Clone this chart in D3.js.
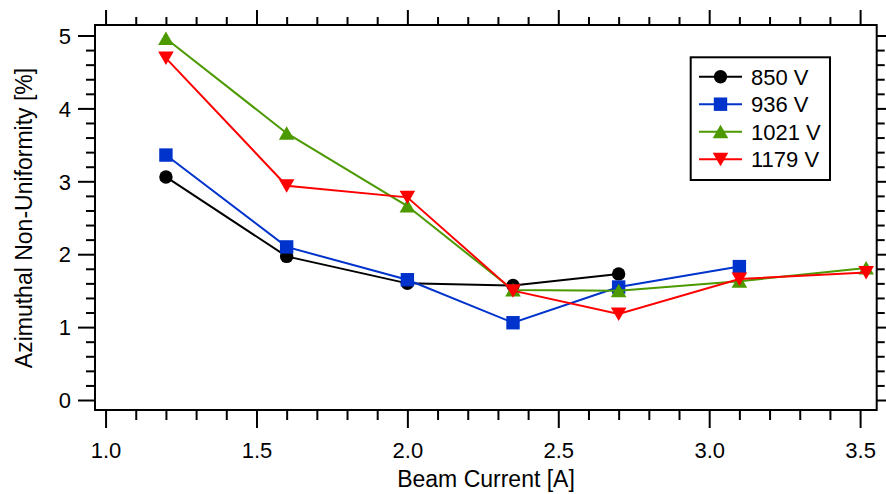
<!DOCTYPE html>
<html>
<head>
<meta charset="utf-8">
<script src="https://cdn.jsdelivr.net/npm/d3@7"></script>
<style>
  html, body { margin: 0; padding: 0; background: #fff; }
  svg { display: block; font-family: "Liberation Sans", Arial, Helvetica, sans-serif; }
</style>
</head>
<body>
<svg id="chart" width="886" height="494"></svg>
<script>
// ---- data ----
const seriesNames = ["850 V", "936 V", "1021 V", "1179 V"];
const currents850  = [1.2, 1.6, 2.0, 2.35, 2.7];
const values850    = [3.06, 1.97, 1.60, 1.57, 1.73];
const currents936  = [1.2, 1.6, 2.0, 2.35, 2.7, 3.1];
const values936    = [3.36, 2.10, 1.65, 1.06, 1.55, 1.83];
const currents1021 = [1.2, 1.6, 2.0, 2.35, 2.7, 3.1, 3.52];
const values1021   = [4.96, 3.66, 2.66, 1.51, 1.50, 1.63, 1.81];
const currents1179 = [1.2, 1.6, 2.0, 2.35, 2.7, 3.1, 3.52];
const values1179   = [4.69, 2.94, 2.78, 1.50, 1.18, 1.66, 1.75];
const xMajorTicks = [1.0, 1.5, 2.0, 2.5, 3.0, 3.5];
const yMajorTicks = [0, 1, 2, 3, 4, 5];
const xTitle = "Beam Current [A]";
const yTitle = "Azimuthal Non-Uniformity [%]";

const colors = ["#000000", "#0033cc", "#4c9900", "#ff0000"];
const shapes = ["circle", "square", "triUp", "triDown"];

const series = [
  {name: seriesNames[0], xs: currents850,  ys: values850},
  {name: seriesNames[1], xs: currents936,  ys: values936},
  {name: seriesNames[2], xs: currents1021, ys: values1021},
  {name: seriesNames[3], xs: currents1179, ys: values1179}
].map((s, i) => ({...s, color: colors[i], shape: shapes[i],
  pts: s.xs.map((x, j) => ({x, y: s.ys[j]}))}));

// ---- layout ----
const L = 95, R = 876.7, T = 25, B = 410;
const x = d3.scaleLinear().domain([0.965, 3.555]).range([L, R]);
const y = d3.scaleLinear().domain([-0.137, 5.144]).range([B, T]);

const svg = d3.select("#chart");
const FS = 22;
const TFS = 23;

const xMinor = d3.range(1.0, 3.55, 0.1).map(v => +v.toFixed(2)).filter(v => !xMajorTicks.some(t => Math.abs(t - v) < 1e-6));
const yMinor = d3.range(0, 5.15, 0.2).map(v => +v.toFixed(2)).filter(v => !yMajorTicks.some(t => Math.abs(t - v) < 1e-6));

function styleAxis(g) {
  g.select(".domain").remove();
  g.selectAll("line").attr("stroke", "#000").attr("stroke-width", 2);
  g.selectAll("text").attr("fill", "#000").attr("font-size", FS).attr("font-family", "Liberation Sans, Arial, sans-serif");
}

// bottom
svg.append("g").attr("transform", `translate(0,${B})`)
  .call(d3.axisBottom(x).tickValues(xMajorTicks).tickSize(18).tickFormat(d3.format(".1f")))
  .call(styleAxis)
  .call(g => g.selectAll("text").attr("y", 48).attr("dy", 0));
svg.append("g").attr("transform", `translate(0,${B})`)
  .call(d3.axisBottom(x).tickValues(xMinor).tickSize(10).tickFormat(""))
  .call(styleAxis);
// top
svg.append("g").attr("transform", `translate(0,${T})`)
  .call(d3.axisTop(x).tickValues(xMajorTicks).tickSize(15).tickFormat(""))
  .call(styleAxis);
svg.append("g").attr("transform", `translate(0,${T})`)
  .call(d3.axisTop(x).tickValues(xMinor).tickSize(8).tickFormat(""))
  .call(styleAxis);
// left
svg.append("g").attr("transform", `translate(${L},0)`)
  .call(d3.axisLeft(y).tickValues(yMajorTicks).tickSize(17).tickFormat(d3.format("d")))
  .call(styleAxis)
  .call(g => g.selectAll("text").attr("x", -24).attr("dy", "0.35em"));
svg.append("g").attr("transform", `translate(${L},0)`)
  .call(d3.axisLeft(y).tickValues(yMinor).tickSize(9).tickFormat(""))
  .call(styleAxis);
// right
svg.append("g").attr("transform", `translate(${R},0)`)
  .call(d3.axisRight(y).tickValues(yMajorTicks).tickSize(15).tickFormat(""))
  .call(styleAxis);
svg.append("g").attr("transform", `translate(${R},0)`)
  .call(d3.axisRight(y).tickValues(yMinor).tickSize(8).tickFormat(""))
  .call(styleAxis);

// frame
svg.append("rect").attr("x", L).attr("y", T).attr("width", R - L).attr("height", B - T)
  .attr("fill", "none").attr("stroke", "#000").attr("stroke-width", 2);

// titles
svg.append("text").attr("x", 486).attr("y", 487).attr("text-anchor", "middle")
  .attr("font-size", TFS).attr("fill", "#000").text(xTitle);
svg.append("text").attr("transform", `translate(32,218) rotate(-90)`).attr("text-anchor", "middle")
  .attr("font-size", TFS).attr("fill", "#000").text(yTitle);

// markers
function drawMarker(g, shape, cx, cy, color) {
  if (shape === "circle") {
    g.append("circle").attr("cx", cx).attr("cy", cy).attr("r", 6.7).attr("fill", color);
  } else if (shape === "square") {
    g.append("rect").attr("x", cx - 6.7).attr("y", cy - 6.7).attr("width", 13.4).attr("height", 13.4).attr("fill", color);
  } else if (shape === "triUp") {
    g.append("path").attr("d", `M${cx},${cy - 7}L${cx + 7.8},${cy + 6.5}L${cx - 7.8},${cy + 6.5}Z`).attr("fill", color);
  } else {
    g.append("path").attr("d", `M${cx},${cy + 7}L${cx + 7.8},${cy - 6.5}L${cx - 7.8},${cy - 6.5}Z`).attr("fill", color);
  }
}

const line = d3.line().x(d => x(d.x)).y(d => y(d.y));
series.forEach(s => {
  const g = svg.append("g");
  g.append("path").datum(s.pts).attr("d", line).attr("fill", "none")
    .attr("stroke", s.color).attr("stroke-width", 2);
  s.pts.forEach(p => drawMarker(g, s.shape, x(p.x), y(p.y), s.color));
});

// legend
const lg = svg.append("g");
lg.append("rect").attr("x", 690.7).attr("y", 57.3).attr("width", 139.3).attr("height", 122.7)
  .attr("fill", "#fff").attr("stroke", "#000").attr("stroke-width", 2);
series.forEach((s, i) => {
  const ry = 76.7 + i * 27.5;
  lg.append("line").attr("x1", 699).attr("x2", 742).attr("y1", ry).attr("y2", ry)
    .attr("stroke", s.color).attr("stroke-width", 2);
  drawMarker(lg, s.shape, 720.5, ry, s.color);
  lg.append("text").attr("x", 751).attr("y", ry).attr("dy", "0.36em")
    .attr("font-size", FS).attr("fill", "#000").text(s.name);
});
</script>
</body>
</html>
